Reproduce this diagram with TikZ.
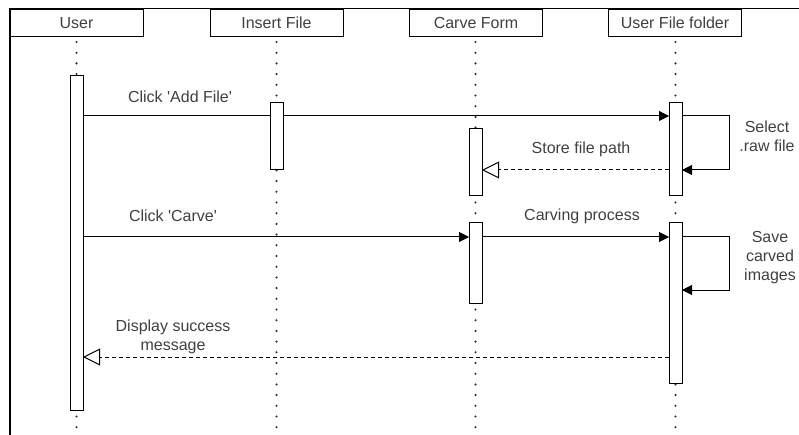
\documentclass[tikz,border=0pt]{standalone}
\usepackage{fontspec}
\setmainfont{Liberation Sans}
\usetikzlibrary{arrows.meta}
\tikzset{
  head/.style={draw,line width=1pt,minimum width=133pt,minimum height=27pt,
    inner sep=0pt,outer sep=0pt,text=black!75},
  act/.style={draw,fill=white,line width=1pt,minimum width=13pt,inner sep=0pt,outer sep=0pt},
  life/.style={line width=2.3pt,line cap=round,dash pattern=on 0pt off 10.7pt,black!85},
  msg/.style={line width=1pt,-{Triangle[length=10pt,width=10pt]}},
  ret/.style={line width=1pt,dash pattern=on 4pt off 3pt,
    -{Triangle[open,length=17pt,width=17pt,fill=white]}},
  lbl/.style={text=black!75,align=center,inner sep=0pt}
}
\newcommand\q{\textquotesingle}
\begin{document}
\begin{tikzpicture}[x=1pt,y=-1pt,font=\fontsize{16}{19}\selectfont]
\useasboundingbox (0,0) rectangle (799,435);
\draw[line width=1.6pt] (10,440)--(10,8.5)--(805,8.5);
% heads
\node[head] (user)   at (76.5,23)  {User};
\node[head] (insert) at (276.5,23) {Insert File};
\node[head] (carve)  at (476,23)   {Carve Form};
\node[head] (folder) at (675,23)   {User File folder};
\foreach \h/\x in {user/76.5,insert/276.5,carve/475.5,folder/675.5}
  \draw[life] (\x,42) -- (\x,440);
% activations
\node[act,minimum height=334pt] (ua)   at (76.5,243)  {};
\node[act,minimum height=67pt]  (ca1)  at (475.5,162.5) {};
\node[act,minimum height=80pt]  (ca2)  at (475.5,263)   {};
\node[act,minimum height=93pt]  (fa1)  at (675.5,149.5) {};
\node[act,minimum height=160pt] (fa2)  at (675.5,303)   {};
% message levels
\coordinate (y1) at (0,116);
\coordinate (y2) at (0,170);
\coordinate (y3) at (0,237);
\coordinate (y4) at (0,357);
\coordinate (loop1) at (729,170);
\coordinate (loop2) at (729,290);
\draw[msg] (ua.east |- y1) -- (fa1.west |- y1);
\draw[msg] (fa1.east |- y1) -| (loop1) -- (fa1.east |- loop1);
\draw[ret] (fa1.west |- y2) -- (ca1.east |- y2);
\draw[msg] (ua.east |- y3) -- (ca2.west |- y3);
\draw[msg] (ca2.east |- y3) -- (fa2.west |- y3);
\draw[msg] (fa2.east |- y3) -| (loop2) -- (fa2.east |- loop2);
\draw[ret] (fa2.west |- y4) -- (ua.east |- y4);
\node[act,minimum height=67pt] (ia) at (276.5,136.5) {};
% labels
\node[lbl] (t1) at (180,96.5) {Click \q Add File\q};
\node[lbl] (t2) at (767,136)  {Select\\.raw file};
\node[lbl] (t3) at (581,149)  {Store file path};
\node[lbl] (t4) at (173,216)  {Click \q Carve\q};
\node[lbl] (t5) at (582,216)  {Carving process};
\node[lbl] (t6) at (770,258)  {Save\\carved\\images};
\node[lbl] (t7) at (173,337)  {Display success\\message};
\end{tikzpicture}
\end{document}
